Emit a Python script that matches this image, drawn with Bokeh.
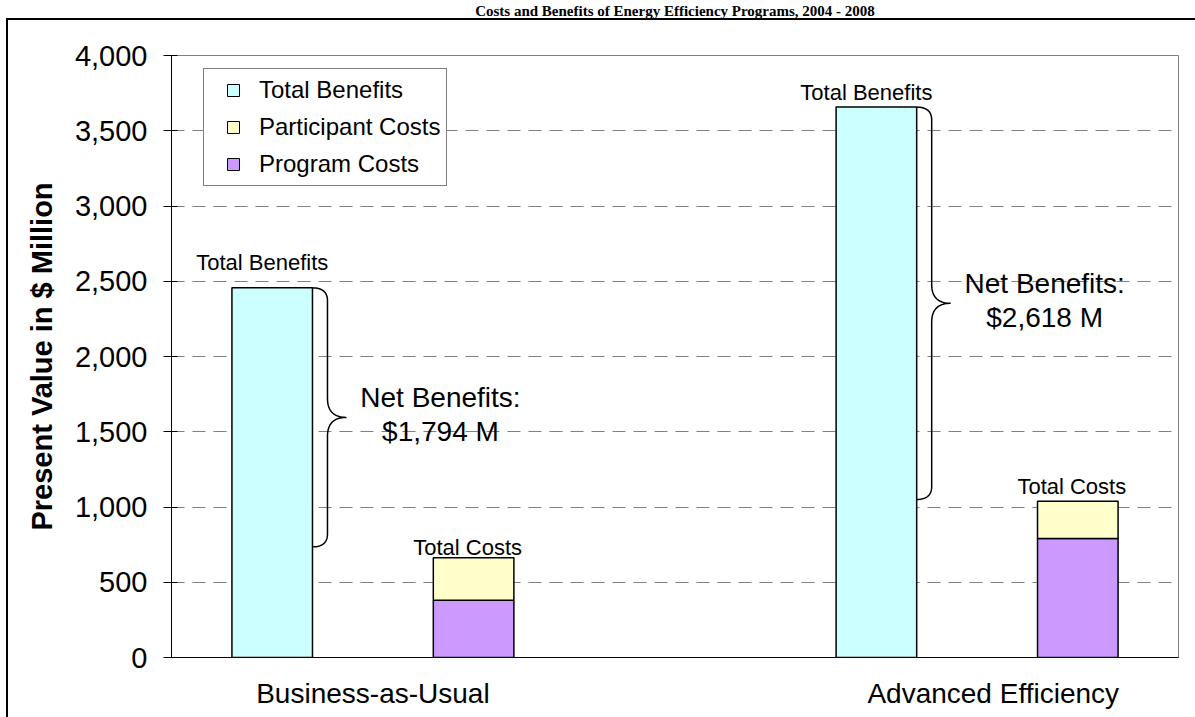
import numpy as np
from bokeh.plotting import figure
from bokeh.models import (Range1d, FixedTicker, NumeralTickFormatter, Legend, LegendItem,
                          ColumnDataSource)
from bokeh.core.properties import value
from bokeh.embed import file_html
from bokeh.resources import INLINE

# ---------------- data ----------------
scenarios = ["Business-as-Usual", "Advanced Efficiency"]
total_benefits = [2456, 3657]
program_costs = [381, 790]
participant_costs = [281, 249]
brace_bottom = [735, 1050]          # lower end of the "net benefits" braces
y_ticks = [0, 500, 1000, 1500, 2000, 2500, 3000, 3500, 4000]
title_text = "Costs and Benefits of Energy Efficiency Programs, 2004 - 2008"
y_title = "Present Value in $ Million"

total_costs = [a + b for a, b in zip(program_costs, participant_costs)]
net_benefits = [b - c for b, c in zip(total_benefits, total_costs)]

FONT = "Liberation Sans"
CYAN, YELLOW, PURPLE = "#CCFFFF", "#FFFFCC", "#CC99FF"

W, H = 1195, 717
L, R, T, B = 171, 17, 55, 60
fw, fh = W - L - R, H - T - B
XMAX, YMAX = 5, 4000
ux = XMAX / fw          # data units per px (x)
uy = YMAX / fh          # data units per px (y)

# slot positions: 5 slots, benefits & costs per scenario, empty slot between
ben_x = [0.5 + 3 * i for i in range(len(scenarios))]
cost_x = [1.5 + 3 * i for i in range(len(scenarios))]
BW = 0.4

p = figure(width=W, height=H, output_backend="svg", toolbar_location=None,
           x_range=Range1d(0, XMAX), y_range=Range1d(0, YMAX),
           min_border_left=L, min_border_right=R, min_border_top=T, min_border_bottom=B,
           background_fill_color="white", border_fill_color=None)
p.outline_line_color = "#808080"
p.outline_line_width = 1

# outer chart frame: left and top edges (the rest lies beyond the picture)
p.styles = {
    "background-color": "white",
    "background-image": "linear-gradient(#000, #000), linear-gradient(#000, #000)",
    "background-size": "2px 100%, 100% 2px",
    "background-position": "6px 18px, 6px 18px",
    "background-repeat": "no-repeat",
}

# title (the original is cropped at the top edge; kept small above the frame)
p.title.text = title_text
p.title.align = "center"
p.title.offset = 592 - L - fw / 2
p.title.text_font = "Liberation Serif"
p.title.text_font_style = "bold"
p.title.text_font_size = "15px"
p.title.text_color = "black"
try:
    p.title.padding = dict(left=0, right=0, top=0, bottom=37)
    p.title.standoff = 0
except Exception:
    p.title.standoff = 36

# ---------------- bars ----------------
src_b = ColumnDataSource(dict(x=ben_x, top=total_benefits))
rb = p.vbar(x="x", top="top", bottom=0, width=BW, source=src_b,
            fill_color=CYAN, line_color="black", line_width=1.5)
src_c = ColumnDataSource(dict(x=cost_x, prog=program_costs, tot=total_costs))
rp = p.vbar(x="x", top="prog", bottom=0, width=BW, source=src_c,
            fill_color=PURPLE, line_color="black", line_width=1.5)
rq = p.vbar(x="x", top="tot", bottom="prog", width=BW, source=src_c,
            fill_color=YELLOW, line_color="black", line_width=1.5)

# ---------------- braces ----------------
def quad(p0, c, p1, n=24):
    t = np.linspace(0, 1, n)
    x = (1 - t) ** 2 * p0[0] + 2 * (1 - t) * t * c[0] + t ** 2 * p1[0]
    y = (1 - t) ** 2 * p0[1] + 2 * (1 - t) * t * c[1] + t ** 2 * p1[1]
    return list(x), list(y)

bx, by, mids, tips = [], [], [], []
for xb, top, bot in zip(ben_x, total_benefits, brace_bottom):
    x0 = xb + BW / 2
    xv = x0 + 15 * ux
    xt = x0 + 34 * ux
    mid = (top + bot) / 2
    re, rt = 13 * uy, 19 * uy
    xs, ys = [], []
    for seg in (quad((x0, top), (xv, top), (xv, top - re)),
                quad((xv, mid + rt), (xv, mid), (xt, mid)),
                quad((xt, mid), (xv, mid), (xv, mid - rt)),
                quad((xv, bot + re), (xv, bot), (x0, bot))):
        xs += seg[0]
        ys += seg[1]
    bx.append(xs)
    by.append(ys)
    mids.append(mid)
    tips.append(xt)
p.multi_line(xs=bx, ys=by, line_color="black", line_width=1.5)

# ---------------- texts ----------------
net_txt = ["Net Benefits:\n${:,.0f} M".format(v) for v in net_benefits]
p.text(x=[t + 94 * ux for t in tips], y=[m + 3 * uy for m in mids], text=net_txt,
       text_font=value(FONT), text_font_size="28px", text_align="center",
       text_baseline="middle", text_line_height=1.1, text_color="black")

p.text(x=[x - 10 * ux for x in ben_x],
       y=[total_benefits[0] + 25.5 * uy, total_benefits[1] + 15 * uy],
       text=["Total Benefits"] * 2, text_font=value(FONT), text_font_size="22px",
       text_align="center", text_baseline="alphabetic", text_color="black")
p.text(x=[x - 6 * ux for x in cost_x],
       y=[total_costs[0] + 10 * uy, total_costs[1] + 14.5 * uy],
       text=["Total Costs"] * 2, text_font=value(FONT), text_font_size="22px",
       text_align="center", text_baseline="alphabetic", text_color="black")

# ---------------- axes ----------------
p.xgrid.visible = False
p.ygrid.ticker = FixedTicker(ticks=y_ticks)
p.ygrid.grid_line_color = "#808080"
p.ygrid.grid_line_dash = "13 8"
p.ygrid.grid_line_width = 1

ya = p.yaxis[0]
ya.ticker = FixedTicker(ticks=y_ticks)
ya.formatter = NumeralTickFormatter(format="0,0")
ya.major_label_text_font = FONT
ya.major_label_text_font_size = "29px"
ya.major_label_text_color = "black"
ya.major_label_standoff = 16
ya.major_tick_out = 8
ya.major_tick_in = 6
ya.minor_tick_line_color = None
ya.axis_line_color = "black"
ya.major_tick_line_color = "black"
ya.axis_label = y_title
ya.axis_label_text_font = FONT
ya.axis_label_text_font_style = "bold"
ya.axis_label_text_font_size = "29px"
ya.axis_label_text_color = "black"
ya.axis_label_standoff = 14

xa = p.xaxis[0]
grp = [(a + b) / 2 for a, b in zip(ben_x, cost_x)]
grp[1] += 0.08
xa.ticker = FixedTicker(ticks=grp)
xa.major_label_overrides = {g: s for g, s in zip(grp, scenarios)}
xa.major_label_text_font = FONT
xa.major_label_text_font_size = "28px"
xa.major_label_text_color = "black"
xa.major_label_standoff = 14
xa.major_tick_line_color = None
xa.minor_tick_line_color = None
xa.axis_line_color = "black"

# ---------------- legend ----------------
lr = [p.scatter(x=[np.nan], y=[np.nan], marker="square", size=12, fill_color=c,
                line_color="black", line_width=1) for c in (CYAN, YELLOW, PURPLE)]
legend = Legend(items=[LegendItem(label="Total Benefits", renderers=[lr[0]]),
                       LegendItem(label="Participant Costs", renderers=[lr[1]]),
                       LegendItem(label="Program Costs", renderers=[lr[2]])],
                location=(32, 471), glyph_width=46, glyph_height=30, label_height=30,
                label_standoff=3, padding=6, spacing=7, margin=0,
                border_line_color="black", border_line_width=1,
                background_fill_color="white", background_fill_alpha=1,
                label_text_font=FONT, label_text_font_size="24px", label_text_color="black")
p.add_layout(legend)

open("out.html", "w").write(file_html(p, INLINE))
